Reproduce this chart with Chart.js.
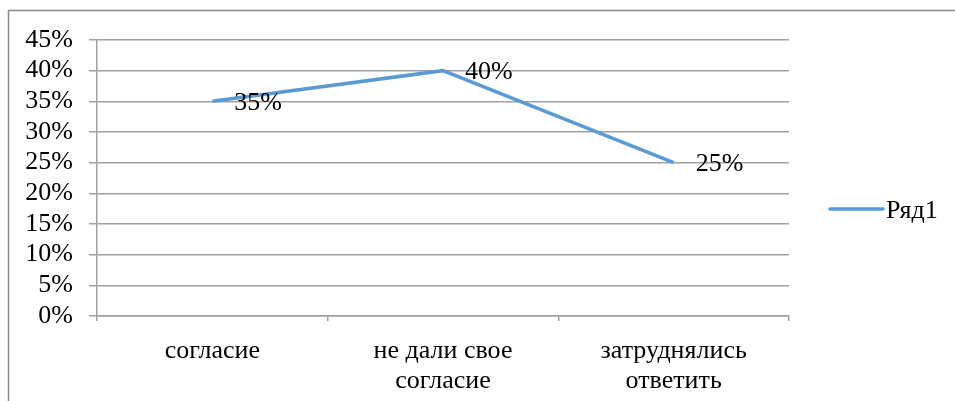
<!DOCTYPE html>
<html>
<head>
<meta charset="utf-8">
<script src="https://cdn.jsdelivr.net/npm/chart.js@4"></script>
<style>
  html, body { margin: 0; padding: 0; background: #fff; }
  #wrap { position: relative; width: 955px; height: 401px; }
</style>
</head>
<body>
<div id="wrap"><canvas id="myChart" width="955" height="401"></canvas></div>
<script>
const categories = [['согласие'], ['не дали свое', 'согласие'], ['затруднялись', 'ответить']];
const values = [0.35, 0.40, 0.25];
const seriesName = 'Ряд1';
const yTicks = [0, 0.05, 0.10, 0.15, 0.20, 0.25, 0.30, 0.35, 0.40, 0.45];

const lineColor = '#5b9bd5';
const gridColor = '#a0a0a0';
const fontFamily = '"Liberation Serif", "Times New Roman", serif';
const fontSize = 26;

// frame around the whole chart
const framePlugin = {
    id: 'frame',
    beforeDraw(chart) {
        let ctx = chart.ctx;
        ctx.save();
        ctx.fillStyle = '#fff';
        ctx.fillRect(0, 0, chart.width, chart.height);
        ctx.strokeStyle = '#888';
        ctx.lineWidth = 1.5;
        ctx.strokeRect(8.5, 10.5, 1000, 500);
        ctx.restore();
    }
};

// value labels right of each point
const labelPlugin = {
    id: 'valueLabels',
    afterDatasetsDraw(chart) {
        let ctx = chart.ctx;
        let meta = chart.getDatasetMeta(0);
        ctx.save();
        ctx.font = fontSize + 'px ' + fontFamily;
        ctx.fillStyle = '#000';
        ctx.textAlign = 'left';
        ctx.textBaseline = 'middle';
        meta.data.forEach((pt, i) => {
            let v = chart.data.datasets[0].data[i];
            ctx.fillText(Math.round(v * 100) + '%', pt.x + 22, pt.y + 2);
        });
        ctx.restore();
    }
};

// legend drawn by hand to the right
const legendPlugin = {
    id: 'sideLegend',
    afterDraw(chart) {
        let ctx = chart.ctx;
        ctx.save();
        ctx.strokeStyle = lineColor;
        ctx.lineWidth = 3.5;
        ctx.lineCap = 'round';
        ctx.beginPath();
        ctx.moveTo(830, 209);
        ctx.lineTo(883, 209);
        ctx.stroke();
        ctx.font = fontSize + 'px ' + fontFamily;
        ctx.fillStyle = '#000';
        ctx.textBaseline = 'middle';
        ctx.fillText(chart.data.datasets[0].label, 886, 211);
        ctx.restore();
    }
};

new Chart(document.getElementById('myChart'), {
    type: 'line',
    data: {
        labels: categories,
        datasets: [{
            label: seriesName,
            data: values,
            borderColor: lineColor,
            borderWidth: 3.5,
            pointRadius: 0,
            tension: 0,
            fill: false
        }]
    },
    options: {
        responsive: false,
        animation: false,
        layout: { padding: { left: 0, top: 40, right: 166, bottom: 0 } },
        plugins: {
            legend: { display: false },
            tooltip: { enabled: false }
        },
        scales: {
            x: {
                offset: true,
                grid: {
                    offset: true,
                    drawOnChartArea: false,
                    drawTicks: true,
                    tickLength: 5,
                    color: gridColor,
                    lineWidth: 1.5
                },
                border: { color: gridColor, width: 1.5 },
                ticks: {
                    color: '#000',
                    padding: 15,
                    maxRotation: 0,
                    autoSkip: false,
                    font: { family: fontFamily, size: fontSize, lineHeight: '30px' }
                },
                afterFit(scale) { scale.height = 85; }
            },
            y: {
                min: 0,
                max: 0.45,
                afterBuildTicks(scale) { scale.ticks = yTicks.map(v => ({ value: v })); },
                grid: {
                    color: gridColor,
                    lineWidth: 1.5,
                    tickLength: 8
                },
                border: { color: gridColor, width: 1.5 },
                ticks: {
                    color: '#000',
                    padding: 16,
                    autoSkip: false,
                    font: { family: fontFamily, size: fontSize },
                    callback: v => Math.round(v * 100) + '%'
                },
                afterFit(scale) { scale.width = 97; }
            }
        }
    },
    plugins: [framePlugin, labelPlugin, legendPlugin]
});
</script>
</body>
</html>
